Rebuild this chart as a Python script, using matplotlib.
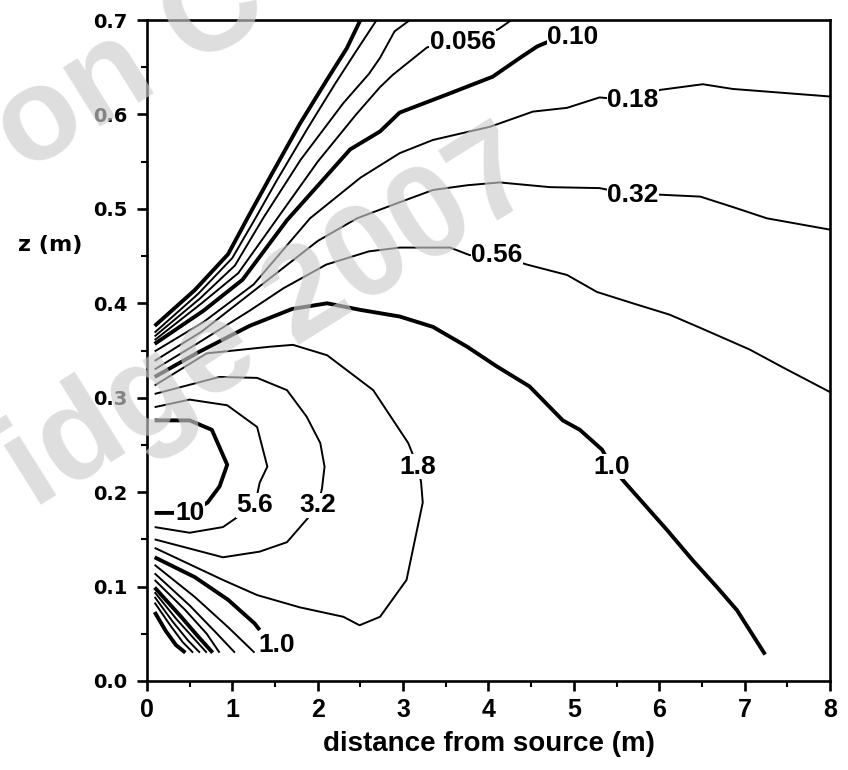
import matplotlib as mpl
import matplotlib.pyplot as plt
import numpy as np

mpl.rcParams['figure.dpi'] = 100
mpl.rcParams['savefig.dpi'] = 100

# contour lines, traced as (distance m, height m)
# upper fan, above the source
x_0010_up = [0.09, 0.56, 0.95, 1.20, 1.45, 1.79, 2.11, 2.34, 2.50]
z_0010_up = [0.376, 0.414, 0.452, 0.494, 0.535, 0.590, 0.637, 0.670, 0.700]
x_0018_up = [0.09, 0.60, 1.00, 1.27, 1.52, 1.88, 2.20, 2.45, 2.69]
z_0018_up = [0.369, 0.410, 0.448, 0.490, 0.530, 0.585, 0.632, 0.667, 0.700]
x_0032_up = [0.09, 0.62, 1.03, 1.36, 1.80, 2.30, 2.60, 2.73, 2.90, 3.08]
z_0032_up = [0.365, 0.405, 0.440, 0.490, 0.552, 0.612, 0.643, 0.660, 0.688, 0.700]
x_0056_up = [0.09, 0.64, 1.07, 1.48, 2.00, 2.45, 2.73, 2.88, 3.28, 3.70, 4.11, 4.27]
z_0056_up = [0.361, 0.400, 0.432, 0.484, 0.550, 0.600, 0.629, 0.642, 0.671, 0.679, 0.690, 0.700]
x_010_up = [0.09, 0.66, 1.12, 1.64, 2.38, 2.73, 2.96, 3.51, 4.05, 4.37, 4.57, 4.70]
z_010_up = [0.357, 0.392, 0.425, 0.488, 0.563, 0.582, 0.602, 0.621, 0.640, 0.660, 0.672, 0.677]
x_018_up = [0.09, 0.66, 1.25, 1.91, 2.50, 2.96, 3.35, 4.02, 4.52, 4.92, 5.30, 5.69, 6.01, 6.51, 6.86, 8.00]
z_018_up = [0.349, 0.380, 0.420, 0.490, 0.533, 0.559, 0.573, 0.587, 0.603, 0.607, 0.618, 0.615, 0.626, 0.632, 0.627, 0.619]
x_032_up = [0.09, 0.64, 1.32, 2.00, 2.46, 2.96, 3.35, 3.75, 4.13, 4.72, 5.30, 5.69, 6.01, 6.48, 6.86, 7.26, 8.00]
z_032_up = [0.339, 0.370, 0.418, 0.466, 0.490, 0.507, 0.520, 0.525, 0.528, 0.523, 0.522, 0.515, 0.515, 0.513, 0.502, 0.490, 0.478]
x_056_up = [0.09, 0.60, 1.20, 1.60, 2.10, 2.60, 2.96, 3.55, 3.78, 4.10, 4.45, 4.92, 5.27, 5.69, 6.12, 6.48, 7.06, 7.45, 8.00]
z_056_up = [0.330, 0.358, 0.392, 0.416, 0.441, 0.455, 0.459, 0.459, 0.451, 0.451, 0.441, 0.430, 0.412, 0.400, 0.388, 0.374, 0.351, 0.332, 0.306]
x_1_up = [0.09, 0.60, 1.20, 1.70, 2.11, 2.50, 2.96, 3.35, 3.75, 4.10, 4.48, 4.87, 5.07, 5.33, 5.44, 5.60, 6.09, 6.39, 6.67, 6.91, 7.24]
z_1_up = [0.322, 0.348, 0.376, 0.394, 0.400, 0.393, 0.386, 0.375, 0.354, 0.333, 0.312, 0.276, 0.266, 0.245, 0.227, 0.210, 0.160, 0.128, 0.100, 0.075, 0.028]

# closed-ish loops round the source
x_18 = [0.09, 0.70, 1.44, 1.71, 2.11, 2.65, 3.06, 3.17, 3.21, 3.23, 3.04, 2.73, 2.49, 2.30, 1.79, 1.29, 0.89, 0.09]
z_18 = [0.313, 0.347, 0.354, 0.356, 0.345, 0.308, 0.252, 0.227, 0.211, 0.189, 0.107, 0.068, 0.059, 0.068, 0.078, 0.091, 0.107, 0.141]
x_32 = [0.09, 0.85, 1.29, 1.64, 1.87, 2.03, 2.08, 2.05, 2.00, 1.87, 1.64, 1.32, 0.89, 0.09]
z_32 = [0.304, 0.322, 0.321, 0.308, 0.280, 0.252, 0.227, 0.204, 0.184, 0.171, 0.147, 0.137, 0.131, 0.150]
x_56 = [0.09, 0.50, 0.94, 1.29, 1.41, 1.32, 1.26, 1.05, 0.89, 0.50, 0.09]
z_56 = [0.290, 0.298, 0.292, 0.269, 0.227, 0.210, 0.184, 0.173, 0.163, 0.157, 0.163]
x_10 = [0.09, 0.50, 0.76, 0.94, 0.85, 0.71, 0.50, 0.09]
z_10 = [0.276, 0.276, 0.266, 0.229, 0.206, 0.189, 0.178, 0.178]

# lower fan, below the source
x_1_lo = [0.09, 0.56, 0.95, 1.26, 1.32]
z_1_lo = [0.131, 0.110, 0.086, 0.061, 0.054]
x_056_lo = [0.09, 0.56, 0.95, 1.26]
z_056_lo = [0.123, 0.089, 0.057, 0.030]
x_032_lo = [0.09, 0.50, 0.80, 1.03]
z_032_lo = [0.114, 0.080, 0.052, 0.030]
x_018_lo = [0.09, 0.45, 0.70, 0.85]
z_018_lo = [0.107, 0.075, 0.050, 0.030]
x_010_lo = [0.09, 0.40, 0.60, 0.77]
z_010_lo = [0.099, 0.068, 0.047, 0.030]
x_0056_lo = [0.09, 0.35, 0.55, 0.70]
z_0056_lo = [0.094, 0.065, 0.045, 0.030]
x_0032_lo = [0.09, 0.30, 0.48, 0.62]
z_0032_lo = [0.089, 0.063, 0.043, 0.030]
x_0018_lo = [0.09, 0.28, 0.42, 0.54]
z_0018_lo = [0.083, 0.058, 0.041, 0.030]
x_0010_lo = [0.09, 0.22, 0.34, 0.45]
z_0010_lo = [0.073, 0.053, 0.038, 0.030]

contours = [
    (0.010, x_0010_up, z_0010_up), (0.018, x_0018_up, z_0018_up),
    (0.032, x_0032_up, z_0032_up), (0.056, x_0056_up, z_0056_up),
    (0.10, x_010_up, z_010_up), (0.18, x_018_up, z_018_up),
    (0.32, x_032_up, z_032_up), (0.56, x_056_up, z_056_up),
    (1.0, x_1_up, z_1_up), (1.8, x_18, z_18), (3.2, x_32, z_32),
    (5.6, x_56, z_56), (10, x_10, z_10),
    (1.0, x_1_lo, z_1_lo), (0.56, x_056_lo, z_056_lo),
    (0.32, x_032_lo, z_032_lo), (0.18, x_018_lo, z_018_lo),
    (0.10, x_010_lo, z_010_lo), (0.056, x_0056_lo, z_0056_lo),
    (0.032, x_0032_lo, z_0032_lo), (0.018, x_0018_lo, z_0018_lo),
    (0.010, x_0010_lo, z_0010_lo),
]
thick_levels = [0.010, 0.10, 1.0, 10]

# inline labels: text, distance, height
labels = [
    ('0.056', 3.70, 0.677), ('0.10', 4.99, 0.682), ('0.18', 5.69, 0.615),
    ('0.32', 5.69, 0.515), ('0.56', 4.10, 0.451), ('1.0', 5.44, 0.227),
    ('1.8', 3.17, 0.227), ('3.2', 2.00, 0.186), ('5.6', 1.26, 0.186),
    ('10', 0.50, 0.178), ('1.0', 1.52, 0.038),
]

bold_sans = ['Liberation Sans', 'DejaVu Sans']

fig = plt.figure(figsize=(8.48, 7.70))
ax = fig.add_axes([0.1733, 0.1156, 0.8055, 0.8584])

for level, xs, zs in contours:
    lw = 2.8 if level in thick_levels else 1.4
    ax.plot(xs, zs, color='black', lw=lw, solid_capstyle='butt', solid_joinstyle='round')

for text, x, z in labels:
    ax.text(x, z, text, ha='center', va='center', fontsize=19, fontweight='bold',
            family=bold_sans, zorder=5,
            bbox=dict(facecolor='white', edgecolor='none', pad=0.3))

ax.set_xlim(0, 8)
ax.set_ylim(0, 0.7)
ax.set_xticks(np.arange(0, 9, 1))
ax.set_xticks(np.arange(0, 8.01, 0.5), minor=True)
ax.set_yticks(np.arange(0, 0.71, 0.1))
ax.set_yticks(np.arange(0, 0.701, 0.05), minor=True)
ax.set_yticklabels([f'{v:.1f}' for v in np.arange(0, 0.71, 0.1)])
for s in ax.spines.values():
    s.set_linewidth(1.9)
ax.tick_params(which='major', direction='out', length=7, width=1.9)
ax.tick_params(which='minor', direction='out', length=4, width=1.5)
ax.tick_params(axis='x', pad=5)
ax.tick_params(axis='y', pad=7)

for lab in ax.get_xticklabels():
    lab.set_family(bold_sans)
    lab.set_fontweight('bold')
    lab.set_fontsize(18)
for lab in ax.get_yticklabels():
    lab.set_family('DejaVu Sans')
    lab.set_fontweight('bold')
    lab.set_fontsize(14)

ax.set_xlabel('distance from source (m)', fontsize=20, fontweight='bold', family=bold_sans)
ax.xaxis.set_label_coords(0.5, -0.075)
ax.xaxis.label.set_va('top')
ax.set_ylabel('z (m)', fontsize=16, fontweight='bold', family='DejaVu Sans', rotation=0)
ax.yaxis.set_label_coords(-0.142, 0.66)
ax.yaxis.label.set_va('center')
ax.yaxis.label.set_ha('center')

# faint watermark across the figure
wm = dict(fontsize=95, fontweight='bold', family=bold_sans, color='#cccccc',
          alpha=0.65, rotation=32, ha='center', va='center', zorder=10)
fig.text(0.154, 0.913, 'on C', **wm)
fig.text(0.320, 0.582, 'idge 2007', **wm)

fig.savefig('out.png')
